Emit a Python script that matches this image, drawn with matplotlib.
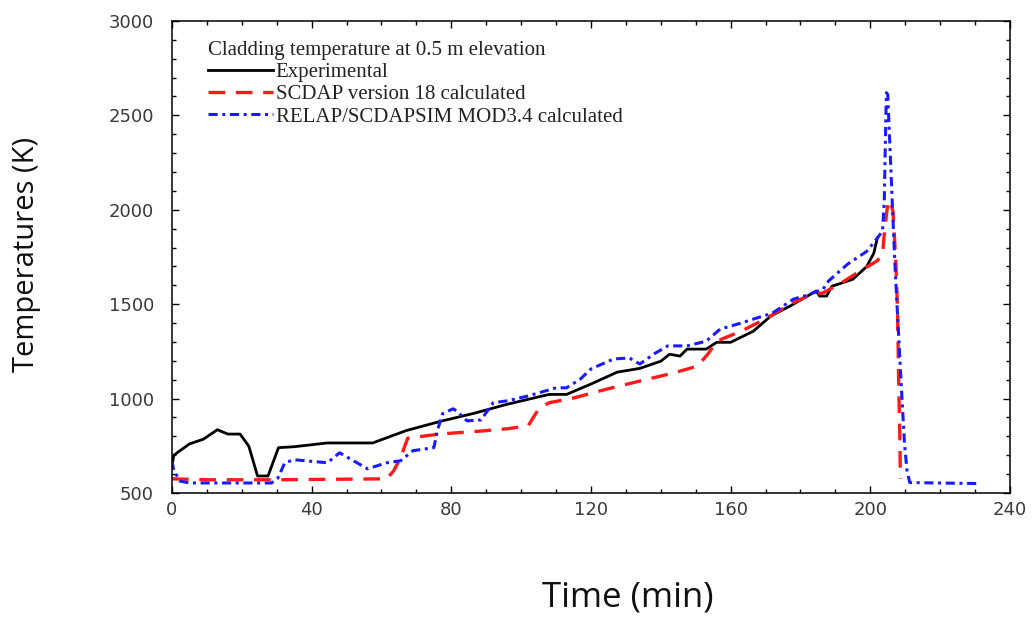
import numpy as np
import matplotlib
matplotlib.use('Agg')
from matplotlib import pyplot as plt
from matplotlib.ticker import MultipleLocator

# Experimental cladding temperature (min, K)
expTime = [0, 0.5, 5, 9, 13, 16, 19.5, 22, 24.5, 27.5, 30.5, 35, 44.5, 57.5, 67, 77,
           86.5, 96, 108, 113, 120, 127.5, 134, 140, 142.5, 145.5, 147.5, 153, 156,
           160, 166.5, 171.5, 177, 182, 184.5, 185.5, 187.5, 189, 191.5, 195, 199,
           201, 202]
expTemp = [640, 700, 760, 785, 835, 812, 812, 748, 590, 590, 740, 745, 765, 765, 830, 880,
           922, 970, 1022, 1022, 1077, 1140, 1160, 1198, 1235, 1225, 1262, 1262, 1298,
           1298, 1357, 1437, 1490, 1543, 1570, 1543, 1543, 1595, 1610, 1632, 1700,
           1770, 1850]

# SCDAP version 18
scdapTime = [0, 10, 30, 61.5, 63.5, 65.5, 67.5, 77, 86.5, 96, 102, 105, 108, 115, 124.5,
             134, 143.5, 150.5, 153.5, 156, 163, 170.5, 177, 182, 186.5, 191.5, 197,
             202, 203.5, 204, 204.5, 205, 205.7, 206.5, 207.3, 207.8, 208.1, 208.5, 208.6]
scdapTemp = [575, 570, 570, 575, 618, 688, 790, 813, 825, 840, 856, 945, 978, 1003, 1050,
             1093, 1135, 1172, 1236, 1304, 1357, 1427, 1500, 1543, 1560, 1610, 1675,
             1730, 1765, 1870, 1955, 2030, 2050, 1990, 1730, 1465, 1110, 760, 575]

# RELAP/SCDAPSIM MOD3.4
relapTime = [0, 0.5, 2.3, 5, 28.5, 30.3, 32.3, 35, 44.5, 48, 51, 56, 61.5, 65.5, 69, 75,
             76, 77.5, 80.5, 81.5, 84.5, 88.5, 92, 96, 102, 110, 113, 117, 120, 126.5,
             131, 134, 138, 142, 147.5, 153, 157, 163, 166.5, 172, 178, 182, 186.5, 188,
             193.5, 199, 202, 203.5, 204, 204.3, 204.6, 205, 205.6, 206.2, 207, 208,
             209, 209.8, 210.5, 211.3, 231]
relapTemp = [670, 620, 563, 553, 553, 578, 660, 676, 660, 713, 681, 628, 660, 671, 724, 740,
             830, 920, 946, 935, 882, 887, 978, 988, 1014, 1057, 1057, 1104, 1157, 1210,
             1215, 1183, 1236, 1279, 1279, 1304, 1368, 1400, 1421, 1453, 1527, 1548, 1580,
             1622, 1712, 1780, 1850, 1887, 2045, 2345, 2620, 2610, 2345, 2080, 1730, 1375,
             1025, 760, 620, 555, 550]

labels = ['Experimental', 'SCDAP version 18 calculated',
          'RELAP/SCDAPSIM MOD3.4 calculated']
legendTitle = 'Cladding temperature at 0.5 m elevation'

fig = plt.figure(figsize=(10.33, 6.17), dpi=100)
ax = fig.add_axes([0.1665, 0.201, 0.8112, 0.765])

ax.plot(expTime, expTemp, color='black', lw=2.0, label=labels[0])
ax.plot(scdapTime, scdapTemp, color='#ff1a1a', lw=2.4, dashes=(5, 3.2), label=labels[1])
ax.plot(relapTime, relapTemp, color='#1a1aff', lw=2.2, dashes=(3, 1.5, 1, 1.5),
        label=labels[2])

ax.set_xlim(0, 240)
ax.set_ylim(500, 3000)
ax.xaxis.set_major_locator(MultipleLocator(40))
ax.xaxis.set_minor_locator(MultipleLocator(10))
ax.yaxis.set_major_locator(MultipleLocator(500))
ax.yaxis.set_minor_locator(MultipleLocator(100))
ax.tick_params(which='both', direction='in', top=True, right=True, color='black')
ax.tick_params(which='major', length=5, width=1.0)
ax.tick_params(which='minor', length=3, width=1.0)
ax.tick_params(axis='y', which='major', pad=13, labelsize=13, labelcolor='#3a3a3a')
ax.tick_params(axis='x', which='major', pad=6, labelsize=13, labelcolor='#3a3a3a')
for spine in ax.spines.values():
    spine.set_linewidth(1.1)

fig.text(628 / 1033, 1 - 598 / 617, 'Time (min)', family='Open Sans', fontsize=25,
         ha='center', va='center', color='#111111')
fig.text(27 / 1033, 1 - 254 / 617, 'Temperatures (K)', family='Open Sans', fontsize=21,
         ha='center', va='center', rotation=90, color='#111111')

leg = ax.legend(loc='upper left', bbox_to_anchor=(0.043, 0.957), frameon=False,
                borderpad=0, borderaxespad=0, handlelength=3.1, handletextpad=0.15,
                labelspacing=0.12, alignment='left', title=legendTitle,
                prop={'family': 'Liberation Serif', 'size': 15},
                title_fontproperties={'family': 'Liberation Serif', 'size': 15})
for txt in leg.get_texts():
    txt.set_color('#222222')
leg.get_title().set_color('#222222')

fig.savefig('out.png', dpi=100, facecolor='white')
